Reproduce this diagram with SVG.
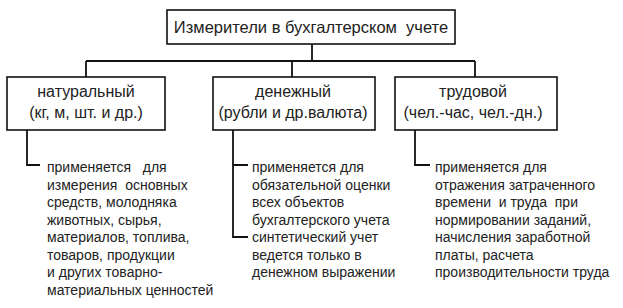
<svg xmlns="http://www.w3.org/2000/svg" width="623" height="308" viewBox="0 0 623 308">
<style>
.box{fill:#fff;stroke:#111;stroke-width:1.6}
.ln{fill:none;stroke:#111;stroke-width:1.8}
text{font-family:"Liberation Sans",Arial,sans-serif;font-size:14px;fill:#222;white-space:pre}
.c{text-anchor:middle}
.b{font-size:16px}
.t{font-size:16.5px}
</style>
<rect width="623" height="308" fill="#fff"/>
<g id="connectors">
<path class="ln" d="M312,44V61M86,61H475M86,61V77M292,61V77M475,61V77"/>
<path class="ln" d="M27,130V165H40"/>
<path class="ln" d="M233,130V237H248M233,165H248"/>
<path class="ln" d="M415,130V165H430"/>
</g>
<g id="root">
<rect class="box" x="167" y="10" width="288" height="34"/>
<text class="c t" x="311" y="33" xml:space="preserve">Измерители в бухгалтерском  учете</text>
</g>
<g id="natural">
<rect class="box" x="7" y="77" width="158" height="53"/>
<text class="c b" x="86" y="97">натуральный</text>
<text class="c b" x="86" y="118">(кг, м, шт. и др.)</text>
</g>
<g id="money">
<rect class="box" x="213" y="77" width="162" height="53"/>
<text class="c b" x="293" y="97">денежный</text>
<text class="c b" x="293" y="118">(рубли и др.валюта)</text>
</g>
<g id="labor">
<rect class="box" x="395" y="77" width="162" height="53"/>
<text class="c b" x="473" y="97">трудовой</text>
<text class="c b" x="473" y="118">(чел.-час, чел.-дн.)</text>
</g>
<g id="natural-desc" xml:space="preserve">
<text x="47" y="172">применяется   для</text>
<text x="47" y="189.5">измерения  основных</text>
<text x="47" y="207">средств, молодняка</text>
<text x="47" y="224.5">животных, сырья,</text>
<text x="47" y="242">материалов, топлива,</text>
<text x="47" y="259.5">товаров, продукции</text>
<text x="47" y="277">и других товарно-</text>
<text x="47" y="294.5">материальных ценностей</text>
</g>
<g id="money-desc">
<text x="252" y="172">применяется для</text>
<text x="252" y="189.5">обязательной оценки</text>
<text x="252" y="207">всех объектов</text>
<text x="252" y="224.5">бухгалтерского учета</text>
<text x="252" y="242">синтетический учет</text>
<text x="252" y="259.5">ведется только в</text>
<text x="252" y="277">денежном выражении</text>
</g>
<g id="labor-desc" xml:space="preserve">
<text x="435" y="172">применяется для</text>
<text x="435" y="189.5">отражения затраченного</text>
<text x="435" y="207">времени  и труда  при</text>
<text x="435" y="224.5">нормировании заданий,</text>
<text x="435" y="242">начисления заработной</text>
<text x="435" y="259.5">платы, расчета</text>
<text x="435" y="277">производительности труда</text>
</g>
</svg>
